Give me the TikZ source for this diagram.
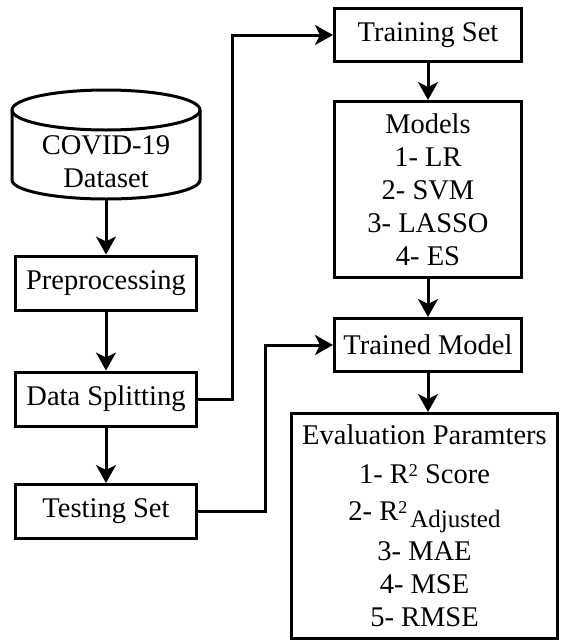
\documentclass[tikz,border=0pt]{standalone}
\usepackage{fontspec}
\setmainfont{Liberation Serif}
\usetikzlibrary{arrows.meta}
\begin{document}
\begin{tikzpicture}[x=1pt,y=-1pt,
  txt/.style={font=\fontsize{28.5}{33}\selectfont, align=center, inner sep=0pt},
  box/.style={txt, draw, line width=3pt},
  lbox/.style={box, minimum width=181pt, minimum height=54pt},
  rbox/.style={box, minimum width=187pt, minimum height=53pt},
  arr/.style={line width=3pt, -{Stealth[length=18pt,width=20pt,inset=5pt]}},
  sup/.style={}]
\useasboundingbox (0,0) rectangle (561,643);
% database cylinder
\draw[line width=3pt] (12,110) -- (12,180) arc[start angle=180,end angle=360,x radius=94pt,y radius=19pt] -- (200,110);
\draw[line width=3pt] (106,110) ellipse[x radius=94pt,y radius=20pt];
\node[txt] (data) at (106,162) {COVID-19\\Dataset};
\coordinate (dbot) at (106,199);
% left column
\node[lbox] (pre) at (106,283) {Preprocessing};
\node[lbox] (ds) at (106,399) {Data Splitting};
\node[lbox] (test) at (106,511.5) {Testing Set};
% right column
\node[rbox] (train) at (428,35) {Training Set};
\node[box, minimum width=187pt, minimum height=176pt] (models) at (428,189.5) {Models\\1- LR\\2- SVM\\3- LASSO\\4- ES};
\node[rbox] (trained) at (428,345) {Trained Model};
\node[box, minimum width=266pt, minimum height=225pt] (eval) at (424.5,526)
  {Evaluation Paramters\\[6pt]
   1- R\raisebox{7pt}{\fontsize{18}{18}\selectfont 2} Score\\[4pt]
   2- R\raisebox{7pt}{\fontsize{18}{18}\selectfont 2}\kern3pt\raisebox{-7pt}{\fontsize{25}{25}\selectfont Adjusted}\\[7pt]
   3- MAE\\
   4- MSE\\
   5- RMSE};
% connectors
\draw[arr] (dbot) -- (pre.north);
\draw[arr] (pre.south) -- (ds.north);
\draw[arr] (ds.south) -- (test.north);
\draw[arr] (ds.east) -- ++(34,0) |- (train.west);
\draw[arr] (test.east) -- ++(67,0) |- (trained.west);
\draw[arr] (train.south) -- (models.north);
\draw[arr] (models.south) -- (trained.north);
\draw[arr] (trained.south) -- (trained.south |- eval.north);
\end{tikzpicture}
\end{document}
